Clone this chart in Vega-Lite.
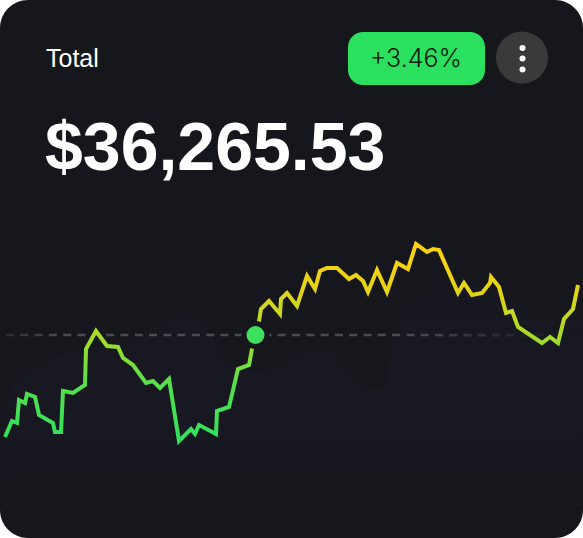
{"$schema":"https://vega.github.io/schema/vega-lite/v6.json","width":583,"height":538,"autosize":{"type":"none"},"padding":0,"background":"#ffffff","config":{"view":{"stroke":null},"axis":{"domain":false,"ticks":false,"labels":false,"grid":false,"title":null}},
"encoding":{"x":{"field":"t","type":"quantitative","axis":null,"scale":{"domain":[0,583],"nice":false,"zero":false}},"y":{"field":"v","type":"quantitative","axis":null,"scale":{"domain":[538,0],"nice":false,"zero":false}}},
"layer":[
{"data":{"values":[{"t":0,"t2":583,"v":0,"v2":538}]},"mark":{"type":"rect","color":"#16171d","cornerRadius":28},"encoding":{"x2":{"field":"t2"},"y2":{"field":"v2"}}},
{"data":{"values":[{"t":4,"v":440,"b":490},{"t":12,"v":385,"b":490},{"t":60,"v":355,"b":490},{"t":110,"v":345,"b":490},{"t":160,"v":325,"b":490},{"t":183,"v":309,"b":490},{"t":205,"v":325,"b":490},{"t":225,"v":358,"b":490},{"t":250,"v":372,"b":490},{"t":290,"v":360,"b":490},{"t":320,"v":344,"b":490},{"t":345,"v":365,"b":490},{"t":365,"v":390,"b":490},{"t":385,"v":385,"b":490},{"t":392,"v":340,"b":490},{"t":400,"v":312,"b":490},{"t":425,"v":295,"b":490},{"t":460,"v":285,"b":490},{"t":500,"v":295,"b":490},{"t":545,"v":318,"b":490},{"t":583,"v":315,"b":490}]},"mark":{"type":"area","interpolate":"monotone","fill":{"gradient":"linear","x1":0,"y1":0,"x2":0,"y2":1,"stops":[{"offset":0,"color":"#17181f"},{"offset":0.6,"color":"#171821"},{"offset":1,"color":"#16171d"}]}},"encoding":{"y2":{"field":"b"}}},
{"data":{"values":[{"t":6,"v":335},{"t":583,"v":335.1}]},"mark":{"type":"line","strokeWidth":2.6,"strokeDash":[8,6.3],"stroke":{"gradient":"linear","x1":0,"y1":0,"x2":1,"y2":0,"stops":[{"offset":0,"color":"#2e2f33"},{"offset":0.1,"color":"#4a4b4f"},{"offset":0.7,"color":"#4a4b4f"},{"offset":0.9,"color":"#25262b"},{"offset":1,"color":"#16171d"}]}}},
{"data":{"values":[{"t":5,"v":437},{"t":12,"v":421},{"t":17,"v":423},{"t":19,"v":400},{"t":25,"v":403},{"t":27,"v":394},{"t":35,"v":397},{"t":39,"v":415},{"t":53,"v":423},{"t":55,"v":432},{"t":61,"v":432},{"t":63,"v":391},{"t":73,"v":393},{"t":85,"v":385},{"t":86,"v":349},{"t":96,"v":331},{"t":107,"v":346},{"t":118,"v":347},{"t":123,"v":358},{"t":133,"v":365},{"t":146,"v":383},{"t":153,"v":381},{"t":160,"v":388},{"t":169,"v":379},{"t":179,"v":441},{"t":191,"v":429},{"t":195,"v":434},{"t":199,"v":425},{"t":216,"v":434},{"t":217,"v":411},{"t":229,"v":407},{"t":238,"v":369},{"t":249,"v":365},{"t":252,"v":349},{"t":259,"v":321},{"t":261,"v":309},{"t":269,"v":301},{"t":280,"v":314},{"t":281,"v":299},{"t":287,"v":293},{"t":297,"v":306},{"t":307,"v":276},{"t":315,"v":289},{"t":320,"v":271},{"t":327,"v":268},{"t":337,"v":268},{"t":349,"v":279},{"t":356,"v":275},{"t":363,"v":281},{"t":368,"v":292},{"t":377,"v":270},{"t":387,"v":292},{"t":397,"v":263},{"t":408,"v":269},{"t":416,"v":244},{"t":427,"v":252},{"t":433,"v":249},{"t":439,"v":250},{"t":458,"v":293},{"t":464,"v":283},{"t":472,"v":295},{"t":482,"v":293},{"t":490,"v":283},{"t":491,"v":277},{"t":499,"v":287},{"t":506,"v":313},{"t":512,"v":311},{"t":518,"v":327},{"t":542,"v":343},{"t":550,"v":337},{"t":558,"v":343},{"t":564,"v":319},{"t":573,"v":309},{"t":578,"v":285}]},"mark":{"type":"line","strokeWidth":4,"strokeJoin":"miter","stroke":{"gradient":"linear","x1":0,"y1":0,"x2":0,"y2":1,"stops":[{"offset":0,"color":"#ffd20e"},{"offset":0.23,"color":"#e6d316"},{"offset":0.5,"color":"#a0dc2c"},{"offset":0.72,"color":"#52e04e"},{"offset":1,"color":"#30e05c"}]}}},
{"data":{"values":[{"t":255.5,"v":335}]},"mark":{"type":"point","filled":true,"size":784,"fill":"#16171d","opacity":1}},
{"data":{"values":[{"t":255.5,"v":335}]},"mark":{"type":"point","filled":true,"size":324,"fill":"#3ddf5e","opacity":1}},
{"data":{"values":[{"t":348,"t2":485,"v":32,"v2":85}]},"mark":{"type":"rect","color":"#2ce05f","cornerRadius":15},"encoding":{"x2":{"field":"t2"},"y2":{"field":"v2"}}},
{"data":{"values":[{"t":522,"v":57.5}]},"mark":{"type":"point","filled":true,"size":2704,"fill":"#3a3a3a","opacity":1}},
{"data":{"values":[{"t":522.5,"v":48},{"t":522.5,"v":58.5},{"t":522.5,"v":69.5}]},"mark":{"type":"point","filled":true,"size":36,"fill":"#ffffff","opacity":1}},
{"data":{"values":[{"t":46,"v":67,"label":"Total"}]},"mark":{"type":"text","align":"left","baseline":"alphabetic","font":"Liberation Sans","fontSize":25,"fill":"#ffffff"},"encoding":{"text":{"field":"label"}}},
{"data":{"values":[{"t":45,"v":170,"label":"$36,265.53"}]},"mark":{"type":"text","align":"left","baseline":"alphabetic","font":"Liberation Sans","fontWeight":"bold","fontSize":68,"fill":"#ffffff"},"encoding":{"text":{"field":"label"}}},
{"data":{"values":[{"t":416,"v":67,"label":"+3.46%"}]},"mark":{"type":"text","align":"center","baseline":"alphabetic","font":"Inter","fontWeight":300,"fontSize":25,"fill":"#0b1a10"},"encoding":{"text":{"field":"label"}}}
]}
